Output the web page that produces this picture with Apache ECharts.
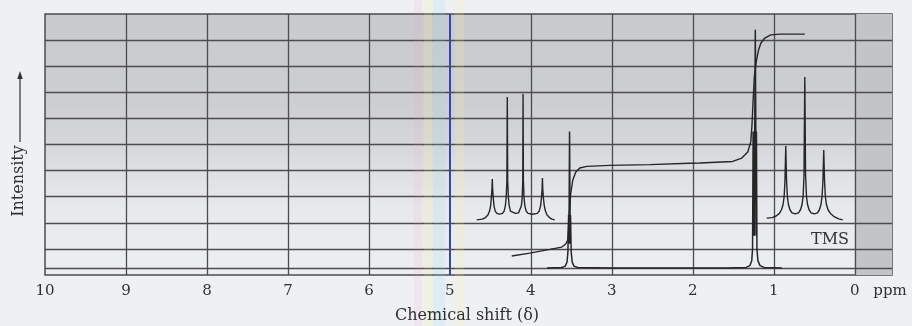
<!DOCTYPE html>
<html>
<head>
<meta charset="utf-8">
<script src="https://cdn.jsdelivr.net/npm/echarts@6/dist/echarts.min.js"></script>
<style>
html,body{margin:0;padding:0;background:#eef0f3;}
#c{width:912px;height:326px;}
</style>
</head>
<body>
<div id="c"></div>
<script>
// ---- data (x = chemical shift in ppm, y = intensity in chart-paper units) ----
const tickLabels = [10, 9, 8, 7, 6, 5, 4, 3, 2, 1, 0];
const gridXValues = [9, 8, 7, 6, 5, 4, 3, 2, 1, 0];
const gridYValues = [1, 2, 3, 4, 5, 6, 7, 8, 9, 0.27];

// main spectrum trace (CH2 multiplet near 3.5, CH3 multiplet near 1.2)
const spectrumPoints = [
  [3.80, 0.27], [3.62, 0.29], [3.575, 0.34], [3.553, 0.5], [3.542, 0.9],
  [3.534, 2.3], [3.531, 1.2], [3.528, 2.3], [3.522, 5.5], [3.516, 2.3],
  [3.513, 1.2], [3.510, 2.3], [3.502, 0.9], [3.49, 0.5], [3.468, 0.34],
  [3.42, 0.29], [3.0, 0.27], [1.6, 0.27], [1.34, 0.29], [1.295, 0.36],
  [1.272, 0.55], [1.262, 1.0], [1.255, 5.5], [1.25, 1.5], [1.245, 5.5],
  [1.24, 1.5], [1.235, 5.5], [1.228, 9.4], [1.222, 5.5], [1.218, 1.5],
  [1.214, 5.5], [1.208, 1.0], [1.196, 0.55], [1.17, 0.36], [1.12, 0.29],
  [0.9, 0.27]
];

// integral trace
const integralPoints = [
  [4.236, 0.73], [4.013, 0.84], [3.766, 0.98], [3.618, 1.07], [3.569, 1.19],
  [3.544, 1.34], [3.526, 2.3], [3.507, 3.14], [3.482, 3.64], [3.445, 3.95],
  [3.396, 4.10], [3.309, 4.16], [3.025, 4.20], [2.53, 4.23], [2.04, 4.28],
  [1.914, 4.29], [1.507, 4.35], [1.395, 4.48], [1.321, 4.71], [1.284, 5.10],
  [1.268, 5.8], [1.255, 6.7], [1.24, 7.6], [1.215, 8.2], [1.19, 8.6],
  [1.16, 8.88], [1.111, 9.08], [1.037, 9.20], [0.926, 9.23], [0.617, 9.23]
];

// expanded quartet inset
const quartetInset = [
  [4.668, 2.11], [4.60, 2.14], [4.56, 2.2], [4.53, 2.3], [4.51, 2.45],
  [4.497, 2.65], [4.488, 2.95], [4.480, 3.3], [4.476, 3.68], [4.472, 3.3],
  [4.464, 2.95], [4.455, 2.65], [4.44, 2.45], [4.42, 2.36], [4.384, 2.33],
  [4.35, 2.36], [4.33, 2.45], [4.315, 2.65], [4.305, 2.95], [4.296, 3.6],
  [4.291, 6.82], [4.286, 3.6], [4.277, 2.95], [4.267, 2.65], [4.252, 2.45],
  [4.232, 2.38], [4.192, 2.36], [4.152, 2.38], [4.132, 2.45], [4.117, 2.65],
  [4.107, 2.95], [4.100, 3.6], [4.096, 6.93], [4.092, 3.6], [4.084, 2.95],
  [4.074, 2.65], [4.058, 2.45], [4.035, 2.36], [3.976, 2.33], [3.92, 2.36],
  [3.897, 2.45], [3.88, 2.65], [3.869, 2.95], [3.861, 3.3], [3.857, 3.72],
  [3.853, 3.3], [3.845, 2.95], [3.834, 2.65], [3.82, 2.45], [3.80, 2.3],
  [3.77, 2.2], [3.74, 2.14], [3.705, 2.11]
];

// expanded triplet inset
const tripletInset = [
  [1.087, 2.18], [1.02, 2.2], [0.97, 2.26], [0.93, 2.36], [0.905, 2.5],
  [0.885, 2.7], [0.872, 3.0], [0.862, 3.6], [0.852, 4.94], [0.842, 3.6],
  [0.832, 3.0], [0.819, 2.7], [0.80, 2.5], [0.775, 2.38], [0.735, 2.34],
  [0.695, 2.38], [0.67, 2.5], [0.651, 2.7], [0.638, 3.0], [0.627, 3.8],
  [0.617, 7.59], [0.607, 3.8], [0.596, 3.0], [0.583, 2.7], [0.564, 2.5],
  [0.539, 2.38], [0.50, 2.34], [0.461, 2.38], [0.436, 2.5], [0.417, 2.7],
  [0.404, 3.0], [0.393, 3.6], [0.383, 4.79], [0.373, 3.6], [0.363, 3.0],
  [0.35, 2.7], [0.33, 2.5], [0.30, 2.36], [0.26, 2.25], [0.2, 2.15],
  [0.148, 2.11]
];

const serif = '"DejaVu Serif", "Liberation Serif", serif';
const ink = '#262626';
const gridInk = '#4c4c4c';
const textInk = '#303030';

const chart = echarts.init(document.getElementById('c'), null, {renderer: 'canvas'});

const markLineData = [];
gridXValues.forEach(v => {
  const item = {xAxis: v};
  if (v === 5) item.lineStyle = {color: '#2c48b3', width: 2};
  markLineData.push(item);
});
gridYValues.forEach(v => markLineData.push({yAxis: v}));

const traceSeries = (name, data, width) => ({
  name, type: 'line', data, showSymbol: false, symbol: 'none', smooth: false,
  z: 5, lineStyle: {color: ink, width: width}, silent: true, animation: false
});

chart.setOption({
  animation: false,
  backgroundColor: '#eef0f3',
  grid: {
    left: 45, right: 20, top: 14, bottom: 51, show: true,
    borderColor: gridInk, borderWidth: 1.5,
    backgroundColor: {
      type: 'linear', x: 0, y: 0, x2: 0, y2: 1,
      colorStops: [
        {offset: 0, color: '#c9cacd'},
        {offset: 0.35, color: '#cdced1'},
        {offset: 0.5, color: '#d6d7da'},
        {offset: 0.62, color: '#e0e1e4'},
        {offset: 0.75, color: '#e8e9ec'},
        {offset: 1, color: '#eceef1'}
      ]
    }
  },
  xAxis: {
    type: 'value', inverse: true, min: -0.46, max: 10,
    axisLine: {show: false}, axisTick: {show: false}, splitLine: {show: false},
    axisLabel: {
      customValues: tickLabels, margin: 9,
      fontFamily: serif, fontSize: 15, color: textInk,
      formatter: v => String(v)
    }
  },
  yAxis: {
    type: 'value', min: 0, max: 10, show: false, splitLine: {show: false}
  },
  graphic: [
    {type: 'rect', silent: true, z: 100, shape: {x: 414, y: 0, width: 8, height: 326}, style: {fill: 'rgba(255,150,190,0.10)'}},
    {type: 'rect', silent: true, z: 100, shape: {x: 424, y: 0, width: 8, height: 326}, style: {fill: 'rgba(255,240,140,0.16)'}},
    {type: 'rect', silent: true, z: 100, shape: {x: 433, y: 0, width: 12, height: 326}, style: {fill: 'rgba(140,225,240,0.16)'}},
    {type: 'rect', silent: true, z: 100, shape: {x: 455, y: 0, width: 9, height: 326}, style: {fill: 'rgba(255,240,140,0.16)'}},
    {type: 'text', silent: true, z: 110, x: 19, y: 181, rotation: Math.PI / 2,
      style: {text: 'Intensity', fontFamily: serif, fontSize: 16, fill: textInk, align: 'center', verticalAlign: 'middle'}},
    {type: 'line', silent: true, z: 110, shape: {x1: 20, y1: 142, x2: 20, y2: 76}, style: {stroke: textInk, lineWidth: 1.2}},
    {type: 'polygon', silent: true, z: 110, shape: {points: [[20, 71], [17.3, 79], [22.7, 79]]}, style: {fill: textInk}},
    {type: 'text', silent: true, z: 110, x: 467, y: 316,
      style: {text: 'Chemical shift (δ)', fontFamily: serif, fontSize: 16, fill: textInk, align: 'center', verticalAlign: 'middle'}},
    {type: 'text', silent: true, z: 110, x: 890, y: 291,
      style: {text: 'ppm', fontFamily: serif, fontSize: 15, fill: textInk, align: 'center', verticalAlign: 'middle'}},
    {type: 'text', silent: true, z: 110, x: 830, y: 240,
      style: {text: 'TMS', fontFamily: serif, fontSize: 16, fill: '#333', align: 'center', verticalAlign: 'middle'}}
  ],
  series: [
    {
      name: 'strip', type: 'line', data: [], z: 1, silent: true,
      markArea: {silent: true, itemStyle: {color: '#c3c4c7'}, data: [[{xAxis: 0}, {xAxis: -0.46}]]}
    },
    {
      name: 'paper', type: 'line', data: [], z: 3, silent: true,
      markLine: {
        silent: true, symbol: ['none', 'none'], label: {show: false}, animation: false,
        lineStyle: {color: gridInk, width: 1.3, type: 'solid'},
        data: markLineData
      }
    },
    traceSeries('spectrum', spectrumPoints, 1.5),
    traceSeries('integral', integralPoints, 1.4),
    traceSeries('quartet', quartetInset, 1.4),
    traceSeries('triplet', tripletInset, 1.4)
  ]
});
</script>
</body>
</html>
